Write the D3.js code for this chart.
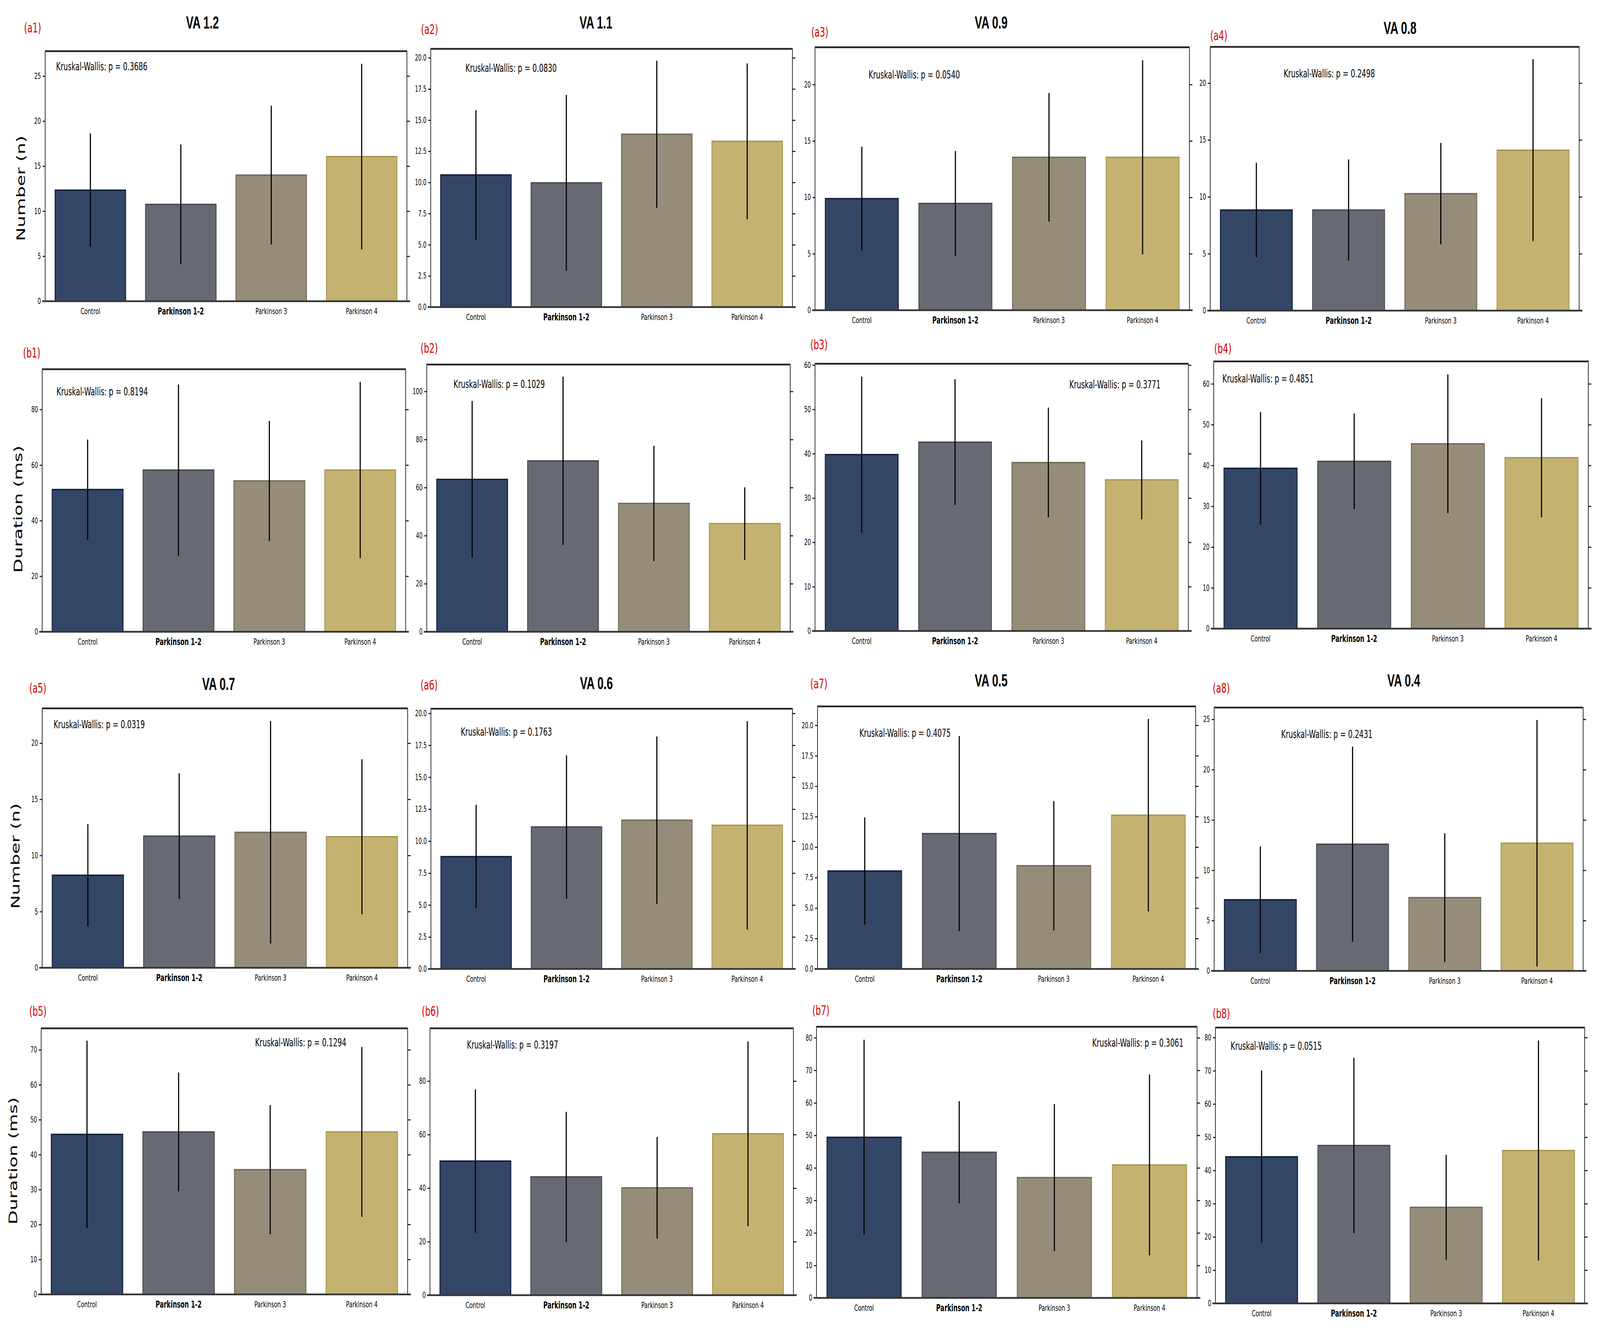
<!DOCTYPE html>
<html>
<head>
<meta charset="utf-8">
<script src="https://cdn.jsdelivr.net/npm/d3@7/dist/d3.min.js"></script>
<style>
  html, body { margin: 0; padding: 0; background: #ffffff; overflow: hidden; }
  svg { display: block; width: 100vw; height: 100vh; }
</style>
</head>
<body>
<svg id="chart" viewBox="0 0 6449 3399" preserveAspectRatio="none"></svg>
<script>
// ---------------- DATA ----------------
const categories = ["Control", "Parkinson 1-2", "Parkinson 3", "Parkinson 4"];
const panelIds = ["a1","a2","a3","a4","b1","b2","b3","b4","a5","a6","a7","a8","b5","b6","b7","b8"];
const panelTitles = ["VA 1.2","VA 1.1","VA 0.9","VA 0.8","","","","",
                     "VA 0.7","VA 0.6","VA 0.5","VA 0.4","","","",""];
const pValues = ["0.3686","0.0830","0.0540","0.2498","0.8194","0.1029","0.3771","0.4851",
                 "0.0319","0.1763","0.4075","0.2431","0.1294","0.3197","0.3061","0.0515"];
const meanValues = [
  [12.33, 10.75, 14.00, 16.06],
  [10.60,  9.97, 13.87, 13.30],
  [ 9.89,  9.46, 13.55, 13.55],
  [ 8.84,  8.84, 10.28, 14.10],
  [51.2, 58.2, 54.3, 58.2],
  [63.4, 71.1, 53.4, 45.0],
  [39.8, 42.6, 38.0, 34.1],
  [39.3, 41.0, 45.3, 41.9],
  [ 8.24, 11.72, 12.06, 11.67],
  [ 8.79, 11.11, 11.64, 11.24],
  [ 8.04, 11.11,  8.47, 12.62],
  [ 7.07, 12.59,  7.28, 12.69],
  [45.8, 46.5, 35.7, 46.5],
  [50.1, 44.2, 40.1, 60.3],
  [49.4, 44.8, 37.0, 40.9],
  [44.1, 47.5, 28.9, 46.0]
];
const errorValues = [
  [6.30, 6.65, 7.70, 10.30],
  [5.20, 7.05, 5.90,  6.25],
  [4.60, 4.65, 5.70,  8.60],
  [4.15, 4.45, 4.45,  8.00],
  [18.0, 30.8, 21.6, 31.7],
  [32.6, 35.0, 24.0, 15.1],
  [17.6, 14.2, 12.4,  8.9],
  [13.8, 11.7, 17.0, 14.6],
  [4.55, 5.60, 9.90,  6.90],
  [4.05, 5.60, 6.55,  8.15],
  [4.40, 8.00, 5.30,  7.90],
  [5.30, 9.70, 6.40, 12.25],
  [26.8, 17.0, 18.5, 24.3],
  [26.8, 24.3, 19.0, 34.5],
  [30.0, 15.7, 22.6, 27.8],
  [26.0, 26.4, 15.8, 33.1]
];
const yDomainMax = [27.76, 20.72, 23.3, 23.18, 94.5, 111.2, 60.3, 65.5,
                    23.1, 20.36, 21.55, 26.17, 76.15, 99.7, 83.4, 83.0];
const yTickStep = [5, 2.5, 5, 5, 20, 20, 10, 10, 5, 2.5, 2.5, 5, 10, 20, 10, 10];
const yAxisLabels = ["Number (n)", "Duration (ms)", "Number (n)", "Duration (ms)"];

// ---------------- LAYOUT (pixels) ----------------
// frame: [left, top, right, bottom]
const frames = [
  [182, 131, 1640, 771], [1736, 125, 3194, 786], [3285, 121, 4794, 794], [4878, 120, 6365, 795],
  [170, 945, 1635, 1617], [1720, 933, 3185, 1617], [3285, 931, 4790, 1615], [4892, 925, 6402, 1609],
  [170, 1813, 1643, 2477], [1737, 1814, 3194, 2480], [3295, 1808, 4819, 2480], [4894, 1811, 6381, 2485],
  [166, 2632, 1643, 3313], [1733, 2632, 3198, 3315], [3291, 2628, 4825, 3322], [4899, 2630, 6387, 3336]
];
const labelPos = [
  [97, 83], [1697, 87], [3270, 94], [4878, 103],
  [93, 915], [1695, 903], [3266, 894], [4894, 904],
  [118, 1773], [1695, 1765], [3266, 1762], [4888, 1773],
  [118, 2600], [1700, 2600], [3274, 2598], [4888, 2606]
];
const titlePos = [
  [816, 73], [2402, 73], [3995, 73], [5643, 87], null, null, null, null,
  [881, 1766], [2404, 1764], [3995, 1757], [5658, 1757], null, null, null, null
];
const annPos = [
  [226, 180, "start"], [1876, 184, "start"], [3501, 201, "start"], [5174, 198, "start"],
  [228, 1012, "start"], [1828, 993, "start"], [4678, 994, "end"], [4927, 979, "start"],
  [216, 1864, "start"], [1857, 1883, "start"], [3464, 1886, "start"], [5164, 1889, "start"],
  [1028, 2678, "start"], [1882, 2684, "start"], [4770, 2679, "end"], [4960, 2687, "start"]
];
const yLabelPos = [[84, 482], [73, 1303], [62, 2191], [52, 2971]];

// ---------------- STYLES ----------------
const barFill   = ["#344666", "#676a72", "#958d79", "#c4b271"];
const barStroke = ["#0e1c3c", "#45484f", "#726a57", "#a8964f"];
const FONT = "'DejaVu Sans', sans-serif";

// ---------------- DRAW ----------------
const svg = d3.select("#chart");
svg.append("rect").attr("width", 6449).attr("height", 3399).attr("fill", "#ffffff");

panelIds.forEach((id, i) => {
  const [L, T, R, B] = frames[i];
  const g = svg.append("g").attr("class", "panel panel-" + id);

  const x = d3.scaleBand().domain(categories).range([L, R])
              .paddingInner(0.22).paddingOuter(0.11);
  const y = d3.scaleLinear().domain([0, yDomainMax[i]]).range([B, T]);

  const step = yTickStep[i];
  const ticks = d3.range(0, yDomainMax[i] + 1e-9, step);
  const fmt = step < 5 ? d3.format(".1f") : d3.format("d");

  const rows = categories.map((c, k) => ({ cat: c, k, m: meanValues[i][k], e: errorValues[i][k] }));

  // bars
  g.selectAll("rect.bar").data(rows).enter().append("rect")
    .attr("class", "bar")
    .attr("x", d => x(d.cat))
    .attr("width", x.bandwidth())
    .attr("y", d => y(d.m))
    .attr("height", d => y(0) - y(d.m))
    .attr("fill", d => barFill[d.k])
    .attr("stroke", d => barStroke[d.k])
    .attr("stroke-width", 3.5);

  // error bars
  g.selectAll("line.err").data(rows).enter().append("line")
    .attr("class", "err")
    .attr("x1", d => x(d.cat) + x.bandwidth() / 2)
    .attr("x2", d => x(d.cat) + x.bandwidth() / 2)
    .attr("y1", d => y(Math.max(0, d.m - d.e)))
    .attr("y2", d => y(d.m + d.e))
    .attr("stroke", "#000")
    .attr("stroke-width", 4.5);

  // left axis
  const ax = g.append("g").attr("transform", `translate(${L},0)`)
    .call(d3.axisLeft(y).tickValues(ticks).tickFormat(fmt).tickSize(10).tickPadding(7));
  ax.select(".domain").remove();
  ax.selectAll(".tick line").attr("stroke", "#000").attr("stroke-width", 2.5);
  ax.selectAll(".tick text").attr("font-family", FONT).attr("font-size", 21).attr("fill", "#000");

  // right axis (ticks only)
  const axr = g.append("g").attr("transform", `translate(${R},0)`)
    .call(d3.axisRight(y).tickValues(ticks).tickFormat("").tickSize(12));
  axr.select(".domain").remove();
  axr.selectAll(".tick line").attr("stroke", "#000").attr("stroke-width", 2.5);

  // frame
  g.append("line").attr("x1", L).attr("x2", L).attr("y1", T).attr("y2", B)
    .attr("stroke", "#000").attr("stroke-width", 2.5);
  g.append("line").attr("x1", R).attr("x2", R).attr("y1", T).attr("y2", B)
    .attr("stroke", "#000").attr("stroke-width", 2.5);
  g.append("line").attr("x1", L - 1).attr("x2", R + 1).attr("y1", T).attr("y2", T)
    .attr("stroke", "#8a8a8a").attr("stroke-width", 5.5);
  g.append("line").attr("x1", L - 1).attr("x2", R + 1).attr("y1", T).attr("y2", T)
    .attr("stroke", "#000").attr("stroke-width", 2.5);
  g.append("line").attr("x1", L - 12).attr("x2", R + 13).attr("y1", B).attr("y2", B)
    .attr("stroke", "#353535").attr("stroke-width", 4.5);

  // bottom axis (category labels)
  const axb = g.append("g").attr("transform", `translate(0,${B})`)
    .call(d3.axisBottom(x).tickSize(0).tickPadding(17));
  axb.select(".domain").remove();
  axb.selectAll(".tick text")
    .attr("font-family", FONT)
    .attr("font-size", d => d === "Parkinson 1-2" ? 24 : 22)
    .attr("font-weight", d => d === "Parkinson 1-2" ? "bold" : "normal")
    .attr("fill", "#000");

  // annotation
  const [ax0, ay0, anc] = annPos[i];
  g.append("text").attr("x", ax0).attr("y", ay0).attr("text-anchor", anc)
    .attr("font-family", FONT).attr("font-size", 28).attr("fill", "#000")
    .text("Kruskal-Wallis: p = " + pValues[i]);

  // panel label
  g.append("text").attr("x", labelPos[i][0]).attr("y", labelPos[i][1])
    .attr("font-family", FONT).attr("font-size", 34).attr("fill", "#d40000")
    .text("(" + id + ")");

  // title
  if (panelTitles[i]) {
    g.append("text").attr("x", titlePos[i][0]).attr("y", titlePos[i][1])
      .attr("text-anchor", "middle")
      .attr("font-family", "'Liberation Sans', Arial, sans-serif")
      .attr("font-weight", "bold").attr("font-size", 45).attr("fill", "#000")
      .text(panelTitles[i]);
  }
});

// y-axis row labels
yAxisLabels.forEach((lab, r) => {
  const [cx, cy] = yLabelPos[r];
  svg.append("text")
    .attr("transform", `translate(${cx},${cy}) rotate(-90)`)
    .attr("text-anchor", "middle")
    .attr("dominant-baseline", "central")
    .attr("font-family", FONT).attr("font-size", 47).attr("fill", "#000")
    .text(lab);
});
</script>
</body>
</html>
